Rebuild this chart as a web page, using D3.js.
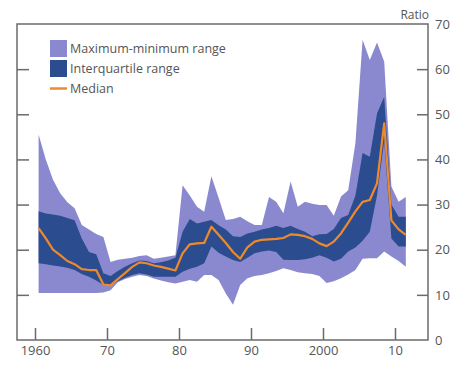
<!DOCTYPE html>
<html>
<head>
<meta charset="utf-8">
<script src="https://cdn.jsdelivr.net/npm/d3@7"></script>
<style>
  body { margin: 0; background: #fff; }
  text { font-family: "Open Sans", "Noto Sans", sans-serif; fill: #555; }
</style>
</head>
<body>
<svg id="chart" width="463" height="371"></svg>
<script>
// annual data, 1960 - 2011
const years = d3.range(1960, 2012);
const maxVals = [45.5, 40, 35.5, 32.5, 30.5, 29.2, 25.5, 24.5, 23.5, 22.8,
  17.3, 17.8, 18, 18.2, 18.6, 18.8, 18.0, 18.2, 18.5, 18.8,
  34.3, 32, 29.5, 28.4, 36.3, 31.5, 26.6, 26.8, 27.3, 26.3,
  25.5, 25.5, 31.7, 30.6, 28.1, 35.1, 29.5, 30.6, 30.2, 29.9,
  29.9, 27.5, 31.8, 33.2, 43.6, 66.5, 62, 65.9, 61.7, 34,
  30.6, 31.7];
const q3Vals = [28.5, 28, 27.8, 27.5, 27, 26.5, 22.5, 19.5, 19, 14.8,
  14.2, 15.3, 16.2, 17, 17.6, 17.5, 17, 17.2, 17.6, 18.2,
  24, 26.8, 25.8, 26.2, 26.6, 25.4, 24.5, 23, 22.8, 23.6,
  24, 24.5, 24.8, 25.3, 24.8, 25.3, 24.6, 24, 23, 23.4,
  23.5, 24.6, 27, 27.7, 32, 41.4, 40.6, 50.2, 53.9, 30,
  27.3, 27.3];
const medianVals = [24.8, 22.5, 20, 18.8, 17.5, 16.8, 15.7, 15.5, 15.5, 12.3,
  12.1, 13.5, 14.8, 16.2, 17.2, 17, 16.5, 16.2, 15.8, 15.4,
  19.2, 21.2, 21.4, 21.5, 25.1, 23.3, 21.5, 19.5, 18, 20.5,
  21.8, 22.2, 22.3, 22.4, 22.6, 23.4, 23.3, 23.0, 22.4, 21.4,
  20.8, 21.8, 23.6, 26, 28.5, 30.6, 31, 34.7, 48, 26.5,
  24.5, 23.3];
const q1Vals = [17, 16.8, 16.5, 16.3, 16, 15.5, 14.6, 14, 13.2, 12.2,
  12.0, 13, 13.8, 14.4, 14.8, 14.5, 14, 14, 14, 14,
  15.1, 15.8, 16.2, 17, 20.7, 19.3, 18.5, 17.7, 17.3, 18.2,
  19.2, 19.6, 19.8, 19.5, 17.8, 17.7, 17.7, 17.9, 18.2, 18.8,
  18.2, 17.4, 18, 19.6, 20.5, 22, 24, 32, 44, 22.5,
  20.7, 20.7];
const minVals = [10.4, 10.4, 10.4, 10.4, 10.4, 10.4, 10.4, 10.4, 10.4, 10.5,
  11, 12.8, 13.5, 14, 14.4, 14.2, 13.6, 13.2, 12.8, 12.5,
  12.9, 13.3, 12.9, 14.4, 14.4, 13.3, 10.3, 7.8, 12.2, 13.7,
  14.2, 14.4, 14.8, 15.3, 15.9, 15.5, 15, 14.8, 14.6, 14.2,
  12.6, 13.0, 13.7, 14.5, 15.5, 18, 18.1, 18.1, 19.6, 18.5,
  17.5, 16.2];

const xTicks = [1960, 1970, 1980, 1990, 2000, 2010];
const xTickLabels = ['1960', '70', '80', '90', '2000', '10'];
const yTicks = [0, 10, 20, 30, 40, 50, 60, 70];

const legendItems = ['Maximum-minimum range', 'Interquartile range', 'Median'];

const colors = {range: '#8a89cf', iqr: '#2b4c8f', median: '#ef8a2b', frame: '#6b6b6b'};

const svg = d3.select('#chart');
const frame = {left: 17, right: 428, top: 24, bottom: 340};

const xScale = d3.scaleLinear().domain([1960, 2010]).range([35, 395]);
const yScale = d3.scaleLinear().domain([0, 70]).range([frame.bottom, frame.top]);

const data = years.map((y, i) => ({
  year: y, max: maxVals[i], q3: q3Vals[i], med: medianVals[i], q1: q1Vals[i], min: minVals[i]
}));
// values sit in the middle of each year
const xPos = d => xScale(d.year + 0.5);

// max-min band
svg.append('path').datum(data)
  .attr('fill', colors.range)
  .attr('d', d3.area().x(xPos).y0(d => yScale(d.min)).y1(d => yScale(d.max)));

// interquartile band
svg.append('path').datum(data)
  .attr('fill', colors.iqr)
  .attr('d', d3.area().x(xPos).y0(d => yScale(d.q1)).y1(d => yScale(d.q3)));

svg.append('path').datum(data)
  .attr('fill', 'none')
  .attr('stroke', colors.median)
  .attr('stroke-width', 2.2)
  .attr('stroke-linejoin', 'round')
  .attr('d', d3.line().x(xPos).y(d => yScale(d.med)));

// frame
svg.append('rect')
  .attr('x', frame.left).attr('y', frame.top)
  .attr('width', frame.right - frame.left).attr('height', frame.bottom - frame.top)
  .attr('fill', 'none').attr('stroke', colors.frame).attr('stroke-width', 1.5);

// right axis with labels, ticks pointing inward
const yAxis = d3.axisRight(yScale).tickValues(yTicks).tickSize(-11).tickFormat(d3.format('d'));
const yAxisGroup = svg.append('g')
  .attr('transform', `translate(${frame.right}, 0)`)
  .call(yAxis);
yAxisGroup.select('.domain').remove();
yAxisGroup.selectAll('line').attr('stroke', colors.frame).attr('stroke-width', 1.5)
  .filter(d => d === 0 || d === 70).remove();
yAxisGroup.selectAll('text').attr('font-size', '13px').attr('fill', '#555')
  .attr('text-anchor', 'start').attr('x', 7);

// left side ticks only
const yAxisLeft = d3.axisLeft(yScale).tickValues(yTicks.filter(d => d > 0 && d < 70)).tickSize(-12).tickFormat('');
const yLeftGroup = svg.append('g')
  .attr('transform', `translate(${frame.left}, 0)`)
  .call(yAxisLeft);
yLeftGroup.select('.domain').remove();
yLeftGroup.selectAll('line').attr('stroke', colors.frame).attr('stroke-width', 1.5);

// x axis, ticks pointing up
const xAxis = d3.axisBottom(xScale).tickValues(xTicks).tickSize(-12)
  .tickFormat((d, i) => xTickLabels[i]);
const xAxisGroup = svg.append('g')
  .attr('transform', `translate(0, ${frame.bottom})`)
  .call(xAxis);
xAxisGroup.select('.domain').remove();
xAxisGroup.selectAll('line').attr('stroke', colors.frame).attr('stroke-width', 1.5);
xAxisGroup.selectAll('text').attr('font-size', '13px').attr('fill', '#555').attr('y', 6).attr('dy', '0.71em');

svg.append('text')
  .attr('x', frame.right + 1).attr('y', 19)
  .attr('text-anchor', 'end')
  .attr('font-size', '12px')
  .text('Ratio');

// legend
const legend = svg.append('g').attr('transform', 'translate(50, 40)');
legendItems.forEach((label, i) => {
  const g = legend.append('g').attr('transform', `translate(0, ${i * 20})`);
  if (i < 2) {
    g.append('rect').attr('x', 0).attr('y', 0).attr('width', 17).attr('height', 17)
      .attr('fill', i === 0 ? colors.range : colors.iqr);
  } else {
    g.append('line').attr('x1', 0).attr('x2', 17).attr('y1', 8.5).attr('y2', 8.5)
      .attr('stroke', colors.median).attr('stroke-width', 2.5);
  }
  g.append('text').attr('x', 20).attr('y', 8.5).attr('dy', '0.35em')
    .attr('font-size', '12.5px').attr('fill', '#444').text(label);
});
</script>
</body>
</html>
